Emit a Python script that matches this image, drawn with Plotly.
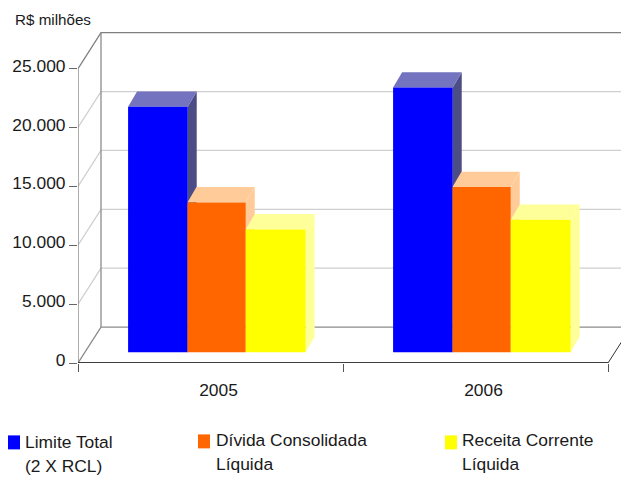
import plotly.graph_objects as go

# Data (R$ millions)
years = ["2005", "2006"]
limite_total = [20840, 22470]
divida_liquida = [12720, 14030]
receita_liquida = [10430, 11250]
y_ticks = [0, 5000, 10000, 15000, 20000, 25000]
y_tick_labels = ["0", "5.000", "10.000", "15.000", "20.000", "25.000"]

W, H = 621, 477
M_L, M_R, M_T, M_B = 78, 0, 0, 113.5
FONT = "Liberation Sans, Arial, sans-serif"
TEXT = "#1a1a1a"
TEXT_SIZE = 17.4

# Oblique projection: how far the floor/wall depth and a bar's depth shift on the axes
WALL_DX, WALL_DY = 0.0868, 3053
BAR_DX, BAR_DY = 0.034, 1305
BAR_LIFT = 915

# Each series: values, offset from category centre, width, front/top/side colours
series = [
    (limite_total, -0.311, 0.225, "#0000FF", "#7373BF", "#4D4D85"),
    (divida_liquida, -0.087, 0.22, "#FF6600", "#FFCC99", "#FFCC99"),
    (receita_liquida, 0.133, 0.226, "#FFFF00", "#FFFF99", "#FFFF99"),
]

# The plot area runs to the canvas edges so the walls can extend past the front axes
X_RANGE = [-0.5, 1.549]
Y_RANGE = [0, 30826]
X_END = 1.5
Y_END = 25000

fig = go.Figure()


def line(xs, ys, color, width=1.2):
    fig.add_trace(go.Scatter(x=xs, y=ys, mode="lines", line=dict(color=color, width=width),
                             hoverinfo="skip", showlegend=False))


def face(xs, ys, color):
    fig.add_trace(go.Scatter(x=xs, y=ys, mode="lines", fill="toself", fillcolor=color,
                             line=dict(width=0), hoverinfo="skip", showlegend=False))


# Back and side walls
x_start = X_RANGE[0]
x_back = x_start + WALL_DX
for v in y_ticks[1:-1]:
    line([x_start, x_back, X_RANGE[1]], [v, v + WALL_DY, v + WALL_DY], "#cfcfcf", 1.3)
line([x_start, x_back, X_RANGE[1]], [Y_END, Y_END + WALL_DY, Y_END + WALL_DY], "#7f7f7f", 1.3)
line([x_start, x_back, X_RANGE[1]], [0, WALL_DY, WALL_DY], "#8c8c8c", 1.3)
line([x_back, x_back], [WALL_DY, Y_END + WALL_DY], "#8c8c8c", 1.3)
line([X_END, X_END + WALL_DX], [0, WALL_DY], "#333333", 1.0)
# Front axis lines stop at the end of the floor and the last labelled value
line([x_start, x_start], [0, Y_END], "#808080", 1.3)

# Side and top faces of the bars, computed from the series values
for values, off, wid, _, top_c, side_c in series:
    for i, v in enumerate(values):
        x0, x1 = i + off, i + off + wid
        base, top = BAR_LIFT, BAR_LIFT + v
        face([x1, x1 + BAR_DX, x1 + BAR_DX, x1, x1],
             [base, base + BAR_DY, top + BAR_DY, top, base], side_c)
        face([x0, x0 + BAR_DX, x1 + BAR_DX, x1, x0],
             [top, top + BAR_DY, top + BAR_DY, top, top], top_c)

line([x_start, X_END], [0, 0], "#000000", 1.3)

# Front faces sit on an overlaid copy of the axes so they cover the depth faces
for values, off, wid, front_c, _, _ in series:
    fig.add_trace(go.Bar(x=[0, 1], y=values, base=BAR_LIFT, offset=off, width=wid,
                         marker=dict(color=front_c, line=dict(width=0)),
                         xaxis="x2", yaxis="y2", showlegend=False, hoverinfo="skip"))


def px_x(p):
    return (p - M_L) / (W - M_L - M_R)


def px_y(p):
    return 1 - (p - M_T) / (H - M_T - M_B)


def label(text, x, y, size=TEXT_SIZE):
    return dict(text=text, x=px_x(x), y=px_y(y), xref="paper", yref="paper",
                xanchor="left", yanchor="middle", showarrow=False,
                font=dict(family=FONT, size=size, color=TEXT))


def swatch(x0, x1, y0, y1, color):
    return dict(type="rect", xref="paper", yref="paper", x0=px_x(x0), x1=px_x(x1),
                y0=px_y(y0), y1=px_y(y1), fillcolor=color, line=dict(width=0))


fig.update_layout(
    width=W, height=H, autosize=False,
    margin=dict(l=M_L, r=M_R, t=M_T, b=M_B, pad=0),
    paper_bgcolor="white", plot_bgcolor="white",
    barmode="overlay",
    font=dict(family=FONT, size=TEXT_SIZE, color=TEXT),
    xaxis=dict(range=X_RANGE, tickmode="array", tickvals=[0, 1], ticktext=years, ticks="",
               ticklabelshift=8, ticklabelstandoff=15,
               showgrid=False, zeroline=False, showline=False,
               minor=dict(tickmode="array", tickvals=[-0.5, 0.5, 1.5], ticks="outside",
                          ticklen=8, tickwidth=1, tickcolor="#555555", showgrid=False)),
    yaxis=dict(range=Y_RANGE, tickmode="array", tickvals=y_ticks, ticktext=y_tick_labels,
               ticks="outside", ticklen=8, tickwidth=1.2, tickcolor="#666666",
               ticklabelshift=-3,
               showgrid=False, zeroline=False, showline=False),
    xaxis2=dict(range=X_RANGE, overlaying="x", visible=False),
    yaxis2=dict(range=Y_RANGE, overlaying="y", visible=False),
    annotations=[
        label("R$ milhões", 13, 20, 15.2),
        label("Limite Total", 23, 442.7),
        label("(2 X RCL)", 23, 466.7),
        label("Dívida Consolidada", 213.5, 441),
        label("Líquida", 213.5, 465),
        label("Receita Corrente", 460, 441),
        label("Líquida", 460, 465),
    ],
    shapes=[
        swatch(8, 20, 436, 450, "#0000FF"),
        swatch(198, 210, 435, 449, "#FF6600"),
        swatch(445, 457, 436, 450, "#FFFF00"),
    ],
)

fig.write_html("out.html")
